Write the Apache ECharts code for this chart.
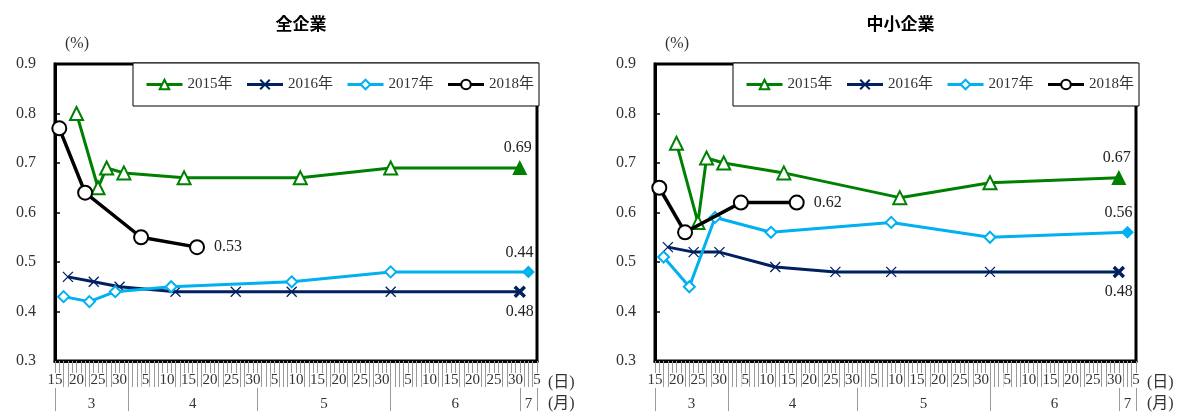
<!DOCTYPE html>
<html><head><meta charset="utf-8">
<script src="https://cdn.jsdelivr.net/npm/echarts@6/dist/echarts.min.js"></script>
<style>html,body{margin:0;padding:0;background:#fff}#c{width:1177px;height:412px}</style>
</head><body><div id="c"></div>
<script>
// ---- data ----
const titles = ['全企業', '中小企業'];
const seriesNames = ['2015年', '2016年', '2017年', '2018年'];
const dates2015 = ['3/20','3/25','3/27','3/31','4/14','5/11','6/1','7/1'];
const dates2016 = ['3/18','3/24','3/30','4/12','4/26','5/9','6/1','7/1'];
const dates2017 = ['3/17','3/23','3/29','4/11','5/9','6/1','7/3'];
const dates2018 = ['3/16','3/22','4/4','4/17'];
// 全企業
const all2015 = [0.80,0.65,0.69,0.68,0.67,0.67,0.69,0.69];
const all2016 = [0.47,0.46,0.45,0.44,0.44,0.44,0.44,0.44];
const all2017 = [0.43,0.42,0.44,0.45,0.46,0.48,0.48];
const all2018 = [0.77,0.64,0.55,0.53];
const allEndLabels = ['0.69','0.48','0.44','0.53'];
// 中小企業
const sme2015 = [0.74,0.58,0.71,0.70,0.68,0.63,0.66,0.67];
const sme2016 = [0.53,0.52,0.52,0.49,0.48,0.48,0.48,0.48];
const sme2017 = [0.51,0.45,0.59,0.56,0.58,0.55,0.56];
const sme2018 = [0.65,0.56,0.62,0.62];
const smeEndLabels = ['0.67','0.48','0.56','0.62'];
// axis
const dayTickDates = ['3/15','3/20','3/25','3/30','4/5','4/10','4/15','4/20','4/25','4/30',
  '5/5','5/10','5/15','5/20','5/25','5/30','6/5','6/10','6/15','6/20','6/25','6/30','7/5'];
const monthBounds = ['3/15','4/1','5/1','6/1','7/1','7/5'];
const monthLabels = ['3','4','5','6','7'];
const yTicks = [0.3,0.4,0.5,0.6,0.7,0.8,0.9];

// ---- helpers ----
const monthLen = {3:31,4:30,5:31,6:30,7:31};
function toDay(s){
  const [m,d] = s.split('/').map(Number);
  let off = -15;
  for (let k = 3; k < m; k++) off += monthLen[k];
  return off + d;
}
const xMin = toDay(monthBounds[0]), xMax = toDay(monthBounds[monthBounds.length-1]);
const dayTickVals = dayTickDates.map(toDay);
const dayLabelMap = {}; dayTickDates.forEach(s => dayLabelMap[toDay(s)] = s.split('/')[1]);
const boundVals = monthBounds.map(toDay);
const monthMids = monthLabels.map((m,i) => (boundVals[i]+boundVals[i+1])/2);
const monthMap = {}; monthMids.forEach((v,i) => monthMap[v] = monthLabels[i]);

const colors = ['#008000','#002060','#00B0F0','#000000'];
const SERIF = "'Liberation Serif','DejaVu Serif','Noto Sans CJK JP',serif";
const XPATH = 'path://M0,0L10,10M10,0L0,10';
const symbols = ['emptyTriangle', XPATH, 'emptyDiamond', 'emptyCircle'];
const filledSymbols = ['triangle', XPATH, 'diamond', 'circle'];
const symSizes = [13, 10, 11, 14];
const labelPos = ['top','bottom','top','right'];
const labelOffset = [[-2,0],[0,0],[-9,0],[4,0]];

const grids = [
  {left:55, top:64, width:482, height:298},
  {left:655, top:64, width:481, height:298}
];

function makeSeries(gi, datesArr, valsArr, endLabels){
  return valsArr.map((vals, si) => {
    const dts = datesArr[si];
    const data = vals.map((v,i) => {
      const item = {value:[toDay(dts[i]), v]};
      if (i === vals.length-1) {
        item.label = {show:true, position: labelPos[si], offset: labelOffset[si],
          formatter: endLabels[si], fontFamily: SERIF, fontSize: 16, color:'#222'};
        if (si !== 3) {
          item.symbol = filledSymbols[si];
          item.itemStyle = si === 1
            ? {color:colors[si], borderColor:colors[si], borderWidth:3.5}
            : {color:colors[si], borderColor:colors[si]};
        }
      }
      return item;
    });
    return {
      name: seriesNames[si], type:'line', xAxisIndex: gi*2, yAxisIndex: gi,
      data, symbol: symbols[si], symbolSize: symSizes[si], showAllSymbol:true,
      lineStyle:{color:colors[si], width: si===3 ? 3.5 : 3},
      itemStyle:{color:colors[si], borderColor:colors[si], borderWidth: si===3 ? 3 : 1.3},
      z: 2 + si, animation:false
    };
  });
}

const xAxes = [], yAxes = [], legends = [], titleArr = [];
grids.forEach((g, gi) => {
  xAxes.push({
    type:'value', gridIndex:gi, min:xMin, max:xMax, interval:1, position:'bottom',
    axisLine:{show:true, lineStyle:{color:'#000', width:3}},
    axisTick:{show:true, length:26, lineStyle:{color:'#9a9a9a', width:1}},
    splitLine:{show:false},
    axisLabel:{customValues: dayTickVals, formatter: v => dayLabelMap[v] || '',
      margin:12, fontSize:15, fontFamily:SERIF, color:'#333', backgroundColor:'#fff', hideOverlap:false},
    name:'(日)', nameLocation:'end', nameGap:11,
    nameTextStyle:{fontFamily:SERIF, fontSize:16, color:'#333', verticalAlign:'top', align:'left', padding:[14,0,0,0]}
  });
  xAxes.push({
    type:'value', gridIndex:gi, min:xMin, max:xMax, position:'bottom', offset:26,
    axisLine:{show:false},
    axisTick:{show:true, customValues: boundVals, length:24, lineStyle:{color:'#9a9a9a', width:1}},
    splitLine:{show:false},
    axisLabel:{customValues: monthMids, formatter: v => monthMap[v] || '',
      margin:10, fontSize:15, fontFamily:SERIF, color:'#333', hideOverlap:false},
    name:'(月)', nameLocation:'end', nameGap:11,
    nameTextStyle:{fontFamily:SERIF, fontSize:16, color:'#333', verticalAlign:'top', align:'left', padding:[9,0,0,0]}
  });
  yAxes.push({
    type:'value', gridIndex:gi, min:yTicks[0], max:yTicks[yTicks.length-1], interval:0.1,
    axisLine:{show:true, lineStyle:{color:'#000', width:3}},
    axisTick:{show:true, inside:true, length:5, lineStyle:{color:'#000', width:1.5}},
    splitLine:{show:false},
    axisLabel:{margin:19, fontSize:16, fontFamily:SERIF, color:'#333', formatter: v => v.toFixed(1)},
    name:'(%)', nameLocation:'end', nameGap:12,
    nameTextStyle:{fontFamily:SERIF, fontSize:16, color:'#333', align:'left', padding:[0,0,0,10]}
  });
  legends.push({
    data: seriesNames, left: g.left + 78, top: 63, orient:'horizontal',
    itemWidth:36, itemHeight:12, itemGap:13,
    padding:[14,5,14,12],
    backgroundColor:'#fff', borderColor:'#000', borderWidth:1,
    lineStyle:{width:3},
    textStyle:{fontFamily:SERIF, fontSize:15, color:'#333'}
  });
  titleArr.push({
    text: titles[gi], left: g.left + g.width/2, top: 10, textAlign:'center',
    textStyle:{fontFamily:"'Noto Sans CJK JP',sans-serif", fontSize:17, fontWeight:'bold', color:'#000'}
  });
});

const option = {
  animation:false,
  title: titleArr,
  grid: grids.map(g => Object.assign({show:true, borderColor:'#000', borderWidth:3, backgroundColor:'#fff'}, g)),
  xAxis: xAxes, yAxis: yAxes, legend: legends,
  series: [
    ...makeSeries(0, [dates2015,dates2016,dates2017,dates2018], [all2015,all2016,all2017,all2018], allEndLabels),
    ...makeSeries(1, [dates2015,dates2016,dates2017,dates2018], [sme2015,sme2016,sme2017,sme2018], smeEndLabels)
  ]
};
const chart = echarts.init(document.getElementById('c'), null, {renderer:'canvas'});
chart.setOption(option);
</script></body></html>
